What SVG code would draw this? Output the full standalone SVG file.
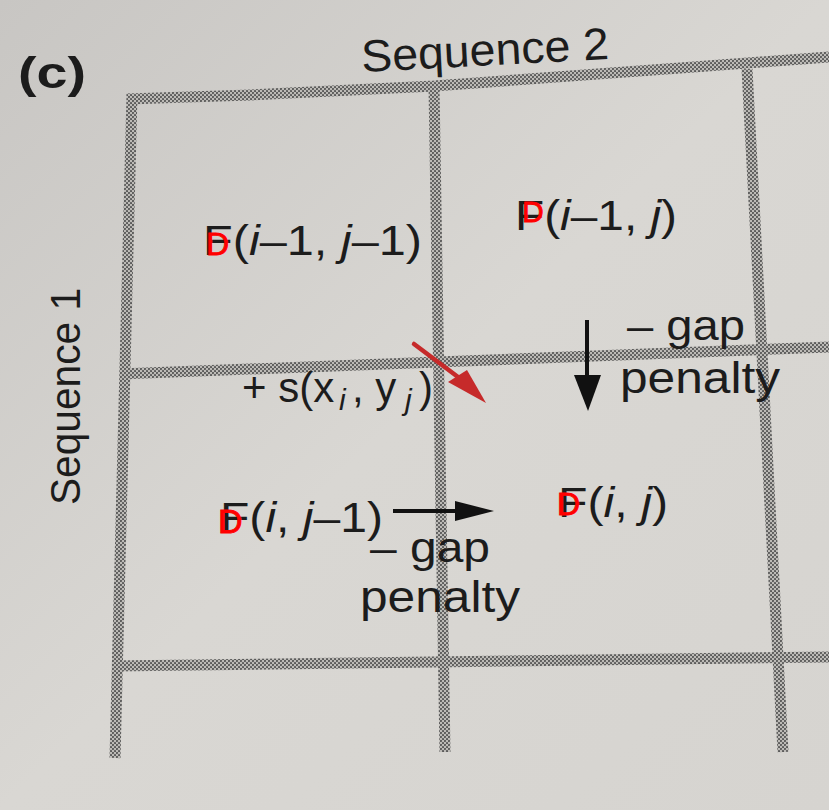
<svg xmlns="http://www.w3.org/2000/svg" width="829" height="810" viewBox="0 0 829 810">
<defs>
  <linearGradient id="paper" x1="0" y1="0" x2="1" y2="1">
    <stop offset="0" stop-color="#c8c6c3"/>
    <stop offset="0.5" stop-color="#d9d7d3"/>
    <stop offset="1" stop-color="#d6d4d0"/>
  </linearGradient>
  <pattern id="halftone" width="4" height="4" patternUnits="userSpaceOnUse">
    <rect width="4" height="4" fill="#bdbbb7"/>
    <circle cx="1" cy="1" r="1.05" fill="#555555"/>
    <circle cx="3" cy="3" r="1.05" fill="#555555"/>
  </pattern>
  <style>
    .grid { fill: none; stroke: url(#halftone); stroke-width: 11; stroke-linejoin: miter; stroke-linecap: butt; }
    .t { font-family: "Liberation Sans", Arial, sans-serif; fill: #1c1c1c; }
    .it { font-style: italic; }
    .red { font-family: "Liberation Sans", Arial, sans-serif; fill: #ff0000; stroke: #ff0000; stroke-width: 0.9; }
    .shaft { stroke: #111; stroke-width: 4; fill: none; }
    .head { fill: #111; }
    .rshaft { stroke: #c62a2a; stroke-width: 4.5; fill: none; stroke-linecap: round; }
    .rhead { fill: #c62a2a; }
  </style>
</defs>
<rect width="829" height="810" fill="url(#paper)"/>

<g id="grid">
  <polyline class="grid" points="127,99 250,95 434,86 680,68 829,57"/>
  <line class="grid" x1="132" y1="94" x2="115" y2="758"/>
  <line class="grid" x1="434" y1="86" x2="445" y2="752"/>
  <line class="grid" x1="747" y1="69" x2="783" y2="752"/>
  <line class="grid" x1="120" y1="374" x2="829" y2="347"/>
  <line class="grid" x1="112" y1="666" x2="829" y2="657"/>
</g>

<g id="labels">
  <text class="t" x="18" y="88" font-size="44" font-weight="bold" textLength="68" lengthAdjust="spacingAndGlyphs">(c)</text>
  <text class="t" x="362" y="72" font-size="45" textLength="248" lengthAdjust="spacingAndGlyphs" transform="rotate(-3 362 72)">Sequence 2</text>
  <text class="t" font-size="42" textLength="217" lengthAdjust="spacingAndGlyphs" transform="translate(80 505) rotate(-90)">Sequence 1</text>
</g>

<g id="cell-i1-j1">
  <text class="t" x="203" y="255" font-size="42" textLength="219" lengthAdjust="spacingAndGlyphs">F(<tspan class="it">i</tspan>–1, <tspan class="it">j</tspan>–1)</text>
  <text class="red" x="206" y="255" font-size="32">D</text>
</g>

<g id="cell-i1-j">
  <text class="t" x="515" y="230" font-size="42" textLength="162" lengthAdjust="spacingAndGlyphs">F(<tspan class="it">i</tspan>–1, <tspan class="it">j</tspan>)</text>
  <text class="red" x="522" y="222" font-size="30">D</text>
</g>

<g id="cell-i-j1">
  <text class="t" x="220" y="532" font-size="42" textLength="163" lengthAdjust="spacingAndGlyphs">F(<tspan class="it">i</tspan>, <tspan class="it">j</tspan>–1)</text>
  <text class="red" x="218" y="533" font-size="34">D</text>
</g>

<g id="cell-i-j">
  <text class="t" x="558" y="517" font-size="42" textLength="110" lengthAdjust="spacingAndGlyphs">F(<tspan class="it">i</tspan>, <tspan class="it">j</tspan>)</text>
  <text class="red" x="557" y="515" font-size="32">D</text>
</g>

<g id="connectors">
  <line class="rshaft" x1="414" y1="344" x2="458" y2="377"/>
  <polygon class="rhead" points="448,382 467,370 486,403"/>
  <line class="shaft" x1="587" y1="320" x2="587" y2="380"/>
  <polygon class="head" points="574,375 601,375 588,411"/>
  <line class="shaft" x1="393" y1="511" x2="460" y2="511"/>
  <polygon class="head" points="455,501 455,521 494,511"/>
</g>

<g id="connector-labels">
  <text class="t" x="242" y="402" font-size="42">+ s(x</text>
  <text class="t it" x="339" y="410" font-size="30">i</text>
  <text class="t" x="352" y="402" font-size="42">, y</text>
  <text class="t it" x="405" y="410" font-size="30">j</text>
  <text class="t" x="419" y="402" font-size="42">)</text>
  <text class="t" x="627" y="340" font-size="42" textLength="118" lengthAdjust="spacingAndGlyphs">– gap</text>
  <text class="t" x="620" y="393" font-size="44" textLength="160" lengthAdjust="spacingAndGlyphs">penalty</text>
  <text class="t" x="370" y="562" font-size="42" textLength="120" lengthAdjust="spacingAndGlyphs">– gap</text>
  <text class="t" x="360" y="612" font-size="44" textLength="160" lengthAdjust="spacingAndGlyphs">penalty</text>
</g>
</svg>
